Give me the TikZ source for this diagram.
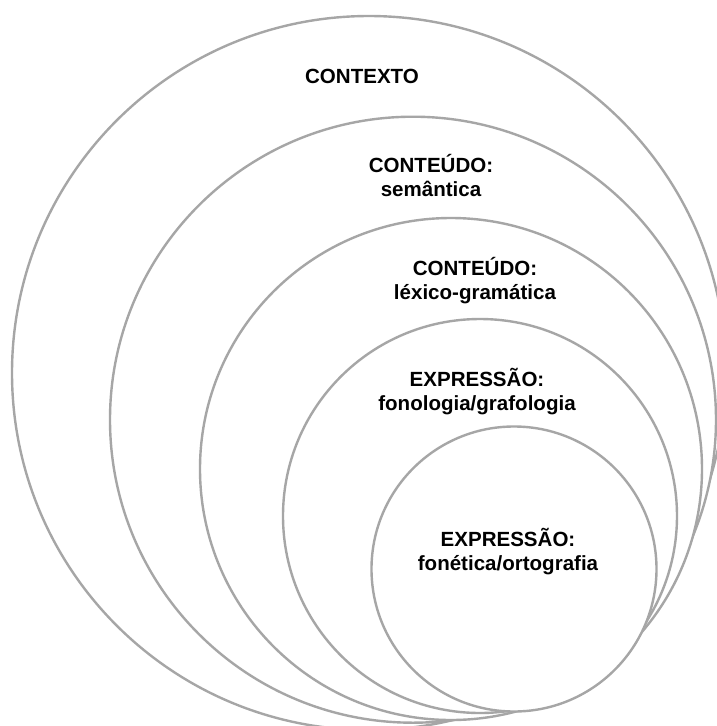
\documentclass[tikz,border=0pt]{standalone}
\usepackage{fontspec}
\setmainfont{Liberation Sans}
\usepackage{xcolor}
\usetikzlibrary{positioning}
\definecolor{ringgray}{HTML}{A6A6A6}

\begin{document}
\begin{tikzpicture}[
    x=0.75pt, y=-0.75pt,
    ring/.style={draw=ringgray, fill=white, line width=1.8pt},
    tag/.style={align=center, inner sep=0pt, font=\fontsize{15.4}{18}\selectfont\bfseries},
]
    \useasboundingbox (0,0) rectangle (717,726);
    \clip (0,0) rectangle (717,726);

    % centres of the rings
    \coordinate (ctx) at (369,373);
    \coordinate (sem) at (413,419.7);
    \coordinate (lex) at (451,469);
    \coordinate (fon) at (480,516);
    \coordinate (fnt) at (514,569);

    % largest first, each one filled white over the one before
    \draw[ring] (ctx) circle[radius=357];
    \draw[ring] (sem) circle[radius=303];
    \draw[ring] (lex) circle[radius=251];
    \draw[ring] (fon) circle[radius=197];
    \draw[ring] (fnt) circle[radius=142.5];

    % labels
    \node[tag] (ctxlabel) at (362,76) {CONTEXTO};
    \node[tag] (semlabel) at (431,175) {CONTEÚDO:\\semântica};
    \node[tag] (lexlabel) at (475,281) {CONTEÚDO:\\léxico-gramática};
    \node[tag] (fonlabel) at (477,392) {EXPRESSÃO:\\fonologia/grafologia};
    \node[tag] (fntlabel) at (508,552) {EXPRESSÃO:\\fonética/ortografia};
\end{tikzpicture}
\end{document}
